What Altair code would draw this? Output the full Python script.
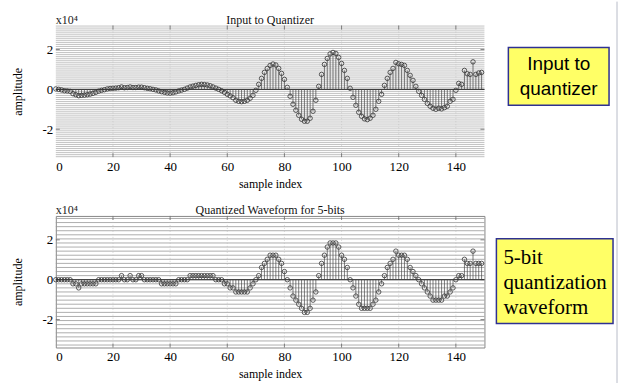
import altair as alt
import pandas as pd

# ---------------- data ----------------
sample_index = list(range(150))

input_amplitude = [
    200, 0, -300, -700, -800, -1000, -2200, -2700, -3200, -3000,
    -2900, -2700, -2400, -2000, -1500, -900, -500, -200, 200, 400,
    500, 600, 800, 1200, 800, 900, 1200, 900, 900, 1100,
    1100, 800, 500, 300, 0, -300, -800, -1200, -1500, -1800,
    -1900, -1700, -1300, -800, -400, 0, 600, 1200, 1600, 2000,
    2300, 2500, 2400, 2200, 1800, 1200, 600, 0, -700, -1500,
    -2500, -3300, -4200, -5500, -6000, -6200, -6000, -5500, -4500, -3000,
    -500, 2500, 5500, 8500, 10500, 12000, 12700, 12200, 10500, 8000,
    5000, 1000, -3500, -7500, -10500, -13000, -15000, -16000, -16000, -14500,
    -11000, -5500, 1500, 7500, 12500, 15500, 17800, 18500, 18000, 16000,
    13000, 9500, 5500, 500, -4000, -8000, -11500, -13500, -14800, -15200,
    -14500, -13000, -10000, -6000, -2500, 2000, 5500, 8500, 10500, 13500,
    12800, 12500, 12000, 9500, 7000, 4500, 1500, -1000, -3000, -5000,
    -7000, -8500, -9500, -10000, -9500, -9800, -9200, -8500, -6000, -5000,
    -500, 3000, 2500, 9500, 7800, 7500, 13800, 7500, 8200, 8500,
]

quantized_amplitude = [
    0, 0, 0, 0, 0, 0, -2048, -2048, -4096, -2048,
    -2048, -2048, -2048, -2048, -2048, 0, 0, 0, 0, 0,
    0, 0, 0, 2048, 0, 0, 2048, 0, 0, 2048,
    2048, 0, 0, 0, 0, 0, 0, -2048, -2048, -2048,
    -2048, -2048, -2048, 0, 0, 0, 0, 2048, 2048, 2048,
    2048, 2048, 2048, 2048, 2048, 2048, 0, 0, 0, -2048,
    -2048, -4096, -4096, -6144, -6144, -6144, -6144, -6144, -4096, -2048,
    0, 2048, 6144, 8192, 10240, 12288, 12288, 12288, 10240, 8192,
    4096, 0, -4096, -8192, -10240, -12288, -14336, -16384, -16384, -14336,
    -10240, -6144, 2048, 8192, 12288, 16384, 18432, 18432, 18432, 16384,
    12288, 10240, 6144, 0, -4096, -8192, -12288, -14336, -14336, -14336,
    -14336, -12288, -10240, -6144, -2048, 2048, 6144, 8192, 10240, 14336,
    12288, 12288, 12288, 10240, 6144, 4096, 2048, 0, -2048, -4096,
    -6144, -8192, -10240, -10240, -10240, -10240, -8192, -8192, -6144, -4096,
    0, 2048, 2048, 10240, 8192, 8192, 14336, 8192, 8192, 8192,
]

if len(input_amplitude) != 150 or len(quantized_amplitude) != 150:
    raise SystemExit(f"bad lengths {len(input_amplitude)} {len(quantized_amplitude)}")

x_ticks = [0, 20, 40, 60, 80, 100, 120, 140]
y_ticks = [-20000, 0, 20000]
fine_levels = list(range(-33792, 32001, 1024))
quant_levels = list(range(-32768, 32001, 2048))

titles = ["Input to Quantizer", "Quantized Waveform for 5-bits"]

# ---------------- style ----------------
W, H = 430, 132
SERIF = "Liberation Serif"
SANS = "Liberation Sans"
XDOM = [0, 150]
YDOM = [-34000, 32000]


def panel(values, title, levels, level_color, level_width, extras):
    df = pd.DataFrame({"n": sample_index, "amp": values, "zero": [0] * len(values)})
    xs = alt.Scale(domain=XDOM, nice=False, zero=False)
    ys = alt.Scale(domain=YDOM, nice=False, zero=False)
    xaxis = alt.Axis(values=x_ticks, title="sample index", grid=False, ticks=False,
                     domain=False, labelFont=SERIF, labelFontSize=13, labelPadding=3,
                     labelColor="black", titleFont=SERIF, titleFontSize=12,
                     titleFontWeight="normal", titleColor="black", titleY=30,
                     titleBaseline="alphabetic", zindex=2)
    yaxis = alt.Axis(values=y_ticks, title="amplitude", grid=False, ticks=False,
                     domain=False, labelFont=SERIF, labelFontSize=13, labelPadding=3,
                     labelColor="black", labelExpr="datum.value / 10000 + ''",
                     titleFont=SERIF, titleFontSize=12, titleFontWeight="normal",
                     titleColor="black", titleX=-34, titleY=H / 2, titleAngle=270,
                     titleAlign="center", titleBaseline="alphabetic", zindex=2)

    lv = pd.DataFrame({"lvl": levels})
    grid_h = alt.Chart(lv).mark_rule(color=level_color, strokeWidth=level_width).encode(
        y=alt.Y("lvl:Q", scale=ys, axis=yaxis))
    vg = pd.DataFrame({"xt": x_ticks[1:]})
    grid_v = alt.Chart(vg).mark_rule(color="#bbbbbb", strokeWidth=0.6,
                                     strokeDash=[1, 2]).encode(
        x=alt.X("xt:Q", scale=xs, axis=xaxis))
    tick_top = alt.Chart(vg).mark_rule(color="#666666", strokeWidth=0.8).encode(
        x=alt.X("xt:Q", scale=xs), y=alt.value(0), y2=alt.value(4))
    tick_bot = alt.Chart(vg).mark_rule(color="#666666", strokeWidth=0.8).encode(
        x=alt.X("xt:Q", scale=xs), y=alt.value(H - 4), y2=alt.value(H))
    yt = pd.DataFrame({"yt": y_ticks})
    tick_l = alt.Chart(yt).mark_rule(color="#666666", strokeWidth=0.8).encode(
        y=alt.Y("yt:Q", scale=ys), x=alt.value(0), x2=alt.value(4))
    tick_r = alt.Chart(yt).mark_rule(color="#666666", strokeWidth=0.8).encode(
        y=alt.Y("yt:Q", scale=ys), x=alt.value(W - 4), x2=alt.value(W))

    base = alt.Chart(df)
    baseline = alt.Chart(pd.DataFrame({"z": [0]})).mark_rule(
        color="#222222", strokeWidth=1).encode(y=alt.Y("z:Q", scale=ys))
    stems = base.mark_rule(color="#444444", strokeWidth=0.7).encode(
        x=alt.X("n:Q", scale=xs), y=alt.Y("amp:Q", scale=ys), y2="zero:Q")
    dots = base.mark_point(shape="circle", filled=False, size=20, color="#333333",
                           strokeWidth=0.8, opacity=1).encode(
        x=alt.X("n:Q", scale=xs), y=alt.Y("amp:Q", scale=ys))

    expo = alt.Chart(pd.DataFrame({"t": ["x10\u2074"]})).mark_text(
        font=SERIF, fontSize=12, align="left", baseline="alphabetic",
        color="#222222").encode(x=alt.value(0), y=alt.value(-2), text="t:N")
    ttl = alt.Chart(pd.DataFrame({"t": [title]})).mark_text(
        font=SERIF, fontSize=12, align="center", baseline="alphabetic",
        color="#111111").encode(x=alt.value(W / 2), y=alt.value(-2), text="t:N")

    layers = extras[:1] + [grid_h, grid_v, tick_top, tick_bot, tick_l, tick_r,
                           baseline, stems, dots, expo, ttl] + extras[1:]
    return alt.layer(*layers).properties(width=W, height=H)


def box(x1, x2, y1, y2, lines, font, size, align, tx, ty0, dy):
    one = pd.DataFrame({"k": [0]})
    layers = [alt.Chart(one).mark_rect(fill="#FFFF66", stroke="#2E3192",
                                       strokeWidth=1.5).encode(
        x=alt.value(x1), x2=alt.value(x2), y=alt.value(y1), y2=alt.value(y2))]
    for i, line in enumerate(lines):
        layers.append(alt.Chart(pd.DataFrame({"t": [line]})).mark_text(
            font=font, fontSize=size, align=align, baseline="middle",
            color="black").encode(x=alt.value(tx), y=alt.value(ty0 + i * dy), text="t:N"))
    return layers


canvas_bg = alt.Chart(pd.DataFrame({"k": [0]})).mark_rect(fill="white").encode(
    x=alt.value(-55), x2=alt.value(567), y=alt.value(-24), y2=alt.value(359))
border = alt.Chart(pd.DataFrame({"k": [0]})).mark_rule(
    color="#b8bcc8", strokeWidth=1).encode(x=alt.value(563), y=alt.value(-24),
                                           y2=alt.value(359))
box_top = box(454, 555, 22, 80, ["Input to", "quantizer"], SANS, 19, "center",
              504.5, 39, 25)
box_bot = box(442, 559, 23, 108, ["5-bit", "quantization", "waveform"], SERIF, 21,
              "left", 449, 42, 25)

top = panel(input_amplitude, titles[0], fine_levels, "#999999", 0.6,
            [canvas_bg] + box_top + [border])
bottom = panel(quantized_amplitude, titles[1], quant_levels, "#999999", 0.8,
               [alt.Chart(pd.DataFrame({"k": [0]})).mark_rect(opacity=0).encode(
                   x=alt.value(0), x2=alt.value(1), y=alt.value(0), y2=alt.value(1))]
               + box_bot)

chart = alt.vconcat(top, bottom, spacing=59, bounds="flush").properties(
    padding=0, background="white"
).configure_view(stroke="#888888", strokeWidth=1)

chart.save("out.html", embed_options={"renderer": "svg", "actions": False})
